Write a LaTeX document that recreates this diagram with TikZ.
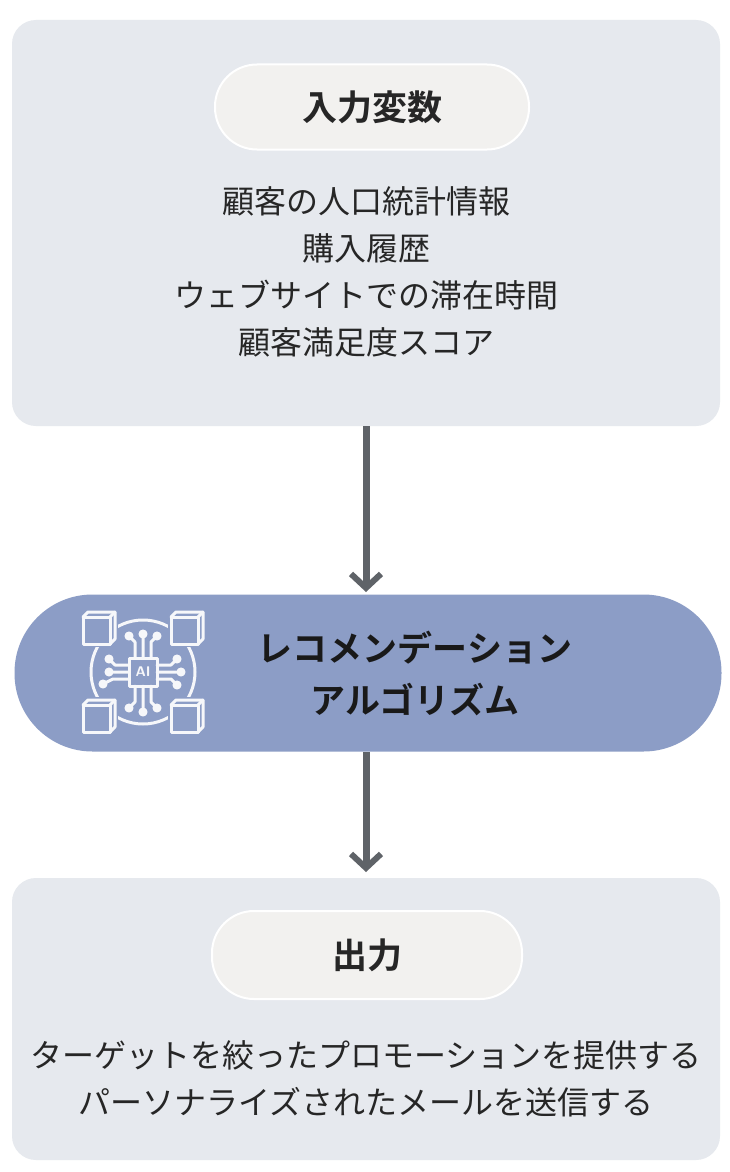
\documentclass[tikz,border=0pt]{standalone}
\usepackage{fontspec}
\setmainfont{Noto Sans CJK JP}[BoldFont={Noto Sans CJK JP Bold}]
\usetikzlibrary{arrows.meta}
\definecolor{panel}{HTML}{E6E9EE}
\definecolor{pill}{HTML}{F2F1EF}
\definecolor{mid}{HTML}{8C9DC6}
\definecolor{arr}{HTML}{5F6368}
\tikzset{
 panel/.style={fill=panel,rounded corners=24pt,draw=none},
 pill/.style={fill=pill,draw=white,line width=2pt,rounded corners=42pt},
 body/.style={font=\fontsize{32}{47}\selectfont,align=center,text=black!85},
 title/.style={font=\fontsize{35}{40}\bfseries\selectfont,text=black!85},
 conn/.style={draw=arr,line width=7pt,-{Straight Barb[length=14pt,width=30pt,line width=6pt]}},
 ic/.style={draw=white!92!mid,line width=3pt,line cap=round,line join=round},
}
\begin{document}
\begin{tikzpicture}[x=1pt,y=-1pt]
\useasboundingbox (0,0) rectangle (729,1172);
\fill[white] (0,0) rectangle (729,1172);
% top panel
\path[panel] (12,20) rectangle (720,426);
\node[pill,minimum width=314pt,minimum height=85pt] (in) at (372,107) {};
\node[title] (intitle) at (in) {入力変数};
\node[body] (inbody) at (366,272) {顧客の人口統計情報\\購入履歴\\ウェブサイトでの滞在時間\\顧客満足度スコア};
\coordinate (topb) at (366,426);
% middle
\node[fill=mid,rounded corners=78pt,minimum width=707pt,minimum height=157pt] (algo) at (368,673) {};
\node[font=\fontsize{35}{52}\bfseries\selectfont,align=center,text=black!90] (algot) at (415,673) {レコメンデーション\\アルゴリズム};
% icon
\begin{scope}[shift={(143,672)}]
 \draw[ic] (0,0) circle (52);
 \foreach \sx/\sy in {-1/-1,1/-1,-1/1,1/1}{
  \fill[mid] (\sx*44-19,\sy*44-19) rectangle (\sx*44+19,\sy*44+19);
  \draw[ic] (\sx*44-16,\sy*44-11) rectangle (\sx*44+11,\sy*44+16);
  \draw[ic] (\sx*44-16,\sy*44-11) -- (\sx*44-11,\sy*44-16) -- (\sx*44+16,\sy*44-16) -- (\sx*44+16,\sy*44+11) -- (\sx*44+11,\sy*44+16);
  \draw[ic] (\sx*44+11,\sy*44-11) -- (\sx*44+16,\sy*44-16);
 }
 \fill[mid] (-15,-15) rectangle (15,15);
 \draw[ic] (-14,-14) rectangle (14,14);
 \node[font=\fontsize{14}{14}\bfseries\sffamily\selectfont,text=white!92!mid] (ai) at (0,0) {AI};
 \draw[ic] (-8,-14) -- (-8,-30) -- (-14,-36) circle (3pt);
 \draw[ic] (0,-14) -- (0,-38) circle (3pt);
 \draw[ic] (8,-14) -- (8,-30) -- (14,-36) circle (3pt);
 \draw[ic] (-8,14) -- (-8,30) -- (-14,36) circle (3pt);
 \draw[ic] (0,14) -- (0,40) circle (3pt);
 \draw[ic] (8,14) -- (8,30) -- (14,36) circle (3pt);
 \draw[ic] (-14,-7) -- (-28,-7) -- (-34,-13) circle (3pt);
 \draw[ic] (-14,0) -- (-34,0) circle (3pt);
 \draw[ic] (-14,7) -- (-30,7) -- (-40,12) circle (3pt);
 \draw[ic] (14,-7) -- (28,-7) -- (34,-13) circle (3pt);
 \draw[ic] (14,0) -- (38,0) circle (3pt);
 \draw[ic] (14,7) -- (28,7) -- (34,13) circle (3pt);
\end{scope}
% bottom panel
\path[panel] (12,878) rectangle (720,1160);
\node[pill,minimum width=310pt,minimum height=88pt] (out) at (367,955) {};
\node[title] (outtitle) at (out) {出力};
\node[body] (outbody) at (366,1079) {ターゲットを絞ったプロモーションを提供する\\パーソナライズされたメールを送信する};
\coordinate (botb) at (366,878);
% arrows
\draw[conn] (topb) -- (366,592);
\draw[conn] (366,752) -- (366,872);
\end{tikzpicture}
\end{document}
